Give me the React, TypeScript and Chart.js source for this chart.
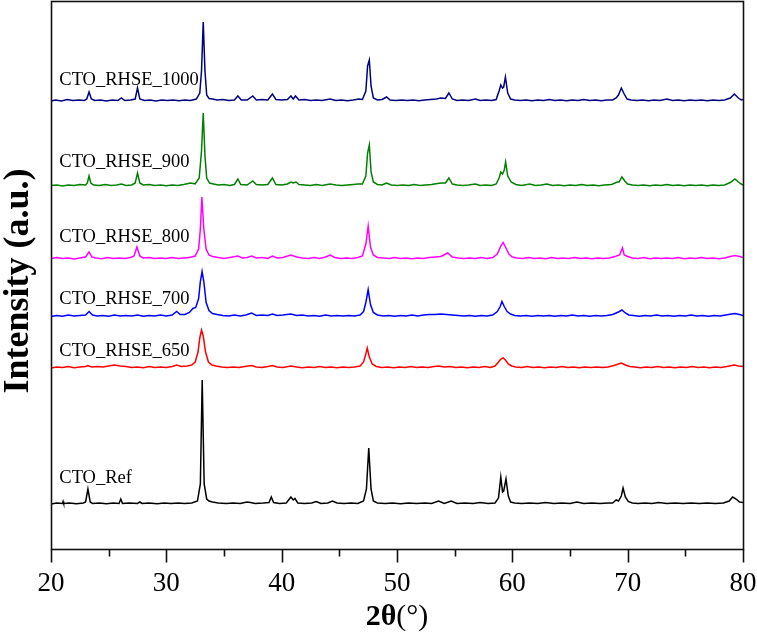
import React, { useEffect, useRef } from "react";
import { Chart, registerables } from "chart.js";

Chart.register(...registerables);

// 2θ (degrees), intensity above each trace's own baseline (a.u.)
const ref: number[][] = [
  [20,0],[20.5,1],[21,0.5],[21.05,2.5],[21.1,0.5],[21.6,1],[22.2,0.3],[22.8,1],[23.0,2],[23.2,15],[23.4,2],[23.6,0.5],[24.2,1],[24.8,0.3],[25.4,1],[25.9,0.5],[26.05,5],[26.2,0.5],[26.8,1],[27.5,0.5],[27.7,2],[27.9,0.5],[28.5,1],[29.2,0.3],[29.8,1],[30.4,0.5],[31,1],[31.6,0.5],[32.2,1],[32.7,3],[32.95,20],[33.11,124],[33.28,20],[33.5,5],[33.7,3],[34,2],[34.5,1],[35.2,0.5],[35.8,1],[36.4,0.5],[37.0,2],[37.3,1.5],[37.7,0.5],[38.4,1],[38.9,1.5],[39.1,7],[39.3,1.5],[39.8,0.5],[40.4,1],[40.8,7],[41.0,4],[41.15,5.5],[41.4,1],[42,0.5],[42.6,1],[43.0,2.5],[43.4,0.5],[44.0,1],[44.4,3],[44.8,1],[45.4,0.5],[46,1],[46.6,0.5],[47.1,3],[47.35,15],[47.55,56],[47.75,15],[47.95,3],[48.3,1],[49,0.5],[49.6,1],[50.3,0.3],[51,1],[51.7,0.5],[52.4,1],[53,0.5],[53.6,3],[54.1,0.5],[54.7,3],[55.2,0.5],[55.9,1],[56.6,0.5],[57.2,1.5],[57.9,0.5],[58.5,1],[58.8,6],[59.0,27],[59.15,12],[59.25,13],[59.45,25],[59.65,8],[59.85,2],[60.2,1],[60.8,0.5],[61.5,1],[62.2,0.5],[62.9,1.5],[63.6,0.5],[64.3,1],[65.0,0.5],[65.6,2],[66.2,0.5],[66.9,1],[67.6,0.5],[68.3,1],[68.7,1],[69.0,4],[69.2,3],[69.45,8],[69.6,16],[69.8,7],[70.05,2.5],[70.4,1],[70.9,0.5],[71.5,1],[72.1,0.5],[72.7,1.5],[73.4,0.5],[74.1,1],[74.8,0.5],[75.5,1],[76.2,0.5],[76.9,1],[77.6,0.5],[78.3,1],[78.8,3],[79.1,7],[79.4,5],[79.7,2],[80,1.5]
];
const rhse650: number[][] = [
  [20,0],[20.5,1],[21,0.5],[21.5,1.5],[22,0.3],[22.5,1],[23.0,1.5],[23.2,2.5],[23.5,1],[24.0,1.5],[24.5,1],[25.0,2],[25.5,3],[26.0,2],[26.5,1.5],[27.0,0.5],[27.5,1],[28,0.3],[28.5,1.5],[29,0.5],[29.5,1],[30,0.5],[30.5,1.5],[30.9,3],[31.3,1.5],[31.8,2],[32.2,3],[32.5,6],[32.75,16],[32.9,30],[33.05,38],[33.2,32],[33.4,16],[33.65,6],[33.95,3],[34.3,2],[34.8,1],[35.3,0.5],[35.8,1],[36.3,0.5],[36.8,1.5],[37.4,2.5],[37.8,1],[38.3,0.5],[38.8,1.5],[39.2,2.5],[39.6,1],[40.1,0.5],[40.8,2],[41.3,1],[41.8,0.3],[42.3,1],[42.8,0.5],[43.3,1.5],[43.8,0.5],[44.3,1],[44.8,0.3],[45.3,1],[45.8,0.5],[46.3,1],[46.8,2],[47.1,6],[47.3,14],[47.42,20],[47.6,11],[47.85,4],[48.2,1.5],[48.7,0.5],[49.2,1],[49.7,0.3],[50.2,1],[50.7,0.5],[51.2,1.5],[51.7,0.5],[52.2,1],[52.7,0.5],[53.2,1.5],[53.6,2],[54.1,1],[54.6,1.5],[55.1,0.5],[55.6,1],[56.1,0.3],[56.6,1],[57.1,0.5],[57.6,1.5],[58.1,0.5],[58.5,2],[58.8,6],[59.0,9],[59.2,10],[59.4,8],[59.65,4],[59.95,2],[60.3,1],[60.8,0.5],[61.3,1.5],[61.8,0.5],[62.3,1],[62.8,0.3],[63.3,1],[63.8,0.5],[64.3,1.5],[64.8,0.5],[65.3,1],[65.8,0.3],[66.3,1],[66.8,0.5],[67.3,1],[67.8,0.5],[68.3,1],[68.8,2.5],[69.2,4],[69.45,5],[69.8,3],[70.2,1.5],[70.6,1],[71.1,0.3],[71.6,1],[72.1,0.5],[72.6,1.5],[73.1,0.5],[73.6,1],[74.1,0.3],[74.6,1],[75.1,0.5],[75.6,1.5],[76.1,0.5],[76.6,1],[77.1,0.3],[77.6,1],[78.1,0.5],[78.6,1.5],[79.0,2.5],[79.25,3],[79.6,2],[80,1.5]
];
const rhse700: number[][] = [
  [20,0],[20.5,1],[21,0.3],[21.5,1.5],[22,0.5],[22.5,1],[23.0,1.5],[23.3,5],[23.6,1.5],[24.0,0.5],[24.5,1],[25,0.3],[25.5,1.5],[26,0.5],[26.5,1],[27,0.5],[27.5,1.5],[28,0.3],[28.5,1],[29,0.5],[29.5,1.5],[30,0.5],[30.5,1.5],[30.9,5],[31.2,2],[31.6,2],[32.0,4],[32.3,8],[32.55,9],[32.8,18],[32.95,35],[33.1,45],[33.25,35],[33.45,14],[33.7,6],[34.0,3],[34.4,2],[34.9,1],[35.4,0.5],[35.9,1.5],[36.4,0.5],[36.9,1.5],[37.4,3.5],[37.8,1],[38.3,1.5],[38.8,1],[39.2,2.5],[39.6,1],[40.1,1.5],[40.8,2.5],[41.3,1],[41.8,1.5],[42.3,0.5],[42.8,1],[43.3,0.3],[43.8,1.5],[44.3,0.5],[44.8,1],[45.3,0.5],[45.8,1],[46.3,0.5],[46.8,1.5],[47.1,5],[47.3,14],[47.5,27],[47.7,12],[47.95,4],[48.3,1.5],[48.8,0.5],[49.3,1],[49.8,0.3],[50.3,1],[50.8,0.5],[51.3,1.5],[51.8,0.5],[52.3,1.5],[52.8,2],[53.3,2],[53.8,2.5],[54.3,2],[54.8,1.5],[55.3,1],[55.8,0.5],[56.3,1],[56.8,0.3],[57.3,1],[57.8,0.5],[58.3,1.5],[58.7,5],[58.95,10],[59.1,15],[59.3,10],[59.55,5],[59.85,2.5],[60.2,1],[60.7,0.5],[61.2,1],[61.7,0.3],[62.2,1],[62.7,0.5],[63.2,1],[63.7,0.3],[64.2,1],[64.7,0.5],[65.2,1.5],[65.7,0.5],[66.2,1],[66.7,0.3],[67.2,1],[67.7,0.5],[68.2,1],[68.7,2],[69.2,4.5],[69.5,6.5],[69.8,3.5],[70.1,1.5],[70.5,1],[71,0.3],[71.5,1],[72,0.5],[72.5,1.5],[73,0.5],[73.5,1],[74,0.3],[74.5,1],[75,0.5],[75.5,1.5],[76,0.5],[76.5,1],[77,0.3],[77.5,1],[78,0.5],[78.5,1.5],[79.0,2.5],[79.3,3],[79.7,2],[80,1]
];
const rhse800: number[][] = [
  [20,0.5],[20.5,1.5],[21,0.5],[21.5,1],[22,0],[22.5,1],[23.0,2],[23.3,7],[23.55,2],[23.9,1],[24.4,0.3],[24.9,1.5],[25.4,0.5],[25.9,1],[26.4,0.5],[26.9,1.5],[27.2,3],[27.45,12],[27.7,3],[28.0,1],[28.5,1.5],[29,0.5],[29.5,1],[30,0.5],[30.5,1.5],[31,0.5],[31.5,1],[32.0,1.5],[32.5,3],[32.8,10],[32.95,30],[33.08,62],[33.25,30],[33.45,10],[33.7,4],[34.0,2.5],[34.5,1.5],[35,0.5],[35.5,1.5],[36.2,3],[36.6,1],[37.0,1.5],[37.4,3],[37.8,1],[38.3,1.5],[38.8,0.5],[39.2,3],[39.6,1],[40.1,1.5],[40.8,4],[41.3,2],[41.8,1],[42.3,0.5],[42.8,1.5],[43.3,0.5],[43.8,2],[44.2,4],[44.6,1.5],[45.1,0.5],[45.6,1],[46.1,0.5],[46.6,1.5],[47.0,3],[47.3,15],[47.5,33],[47.7,12],[47.95,4],[48.3,1.5],[48.8,1],[49.3,0.5],[49.8,1.5],[50.3,0.5],[50.8,1],[51.3,0.3],[51.8,1],[52.3,0.5],[52.8,1.5],[53.3,2],[53.8,2.5],[54.4,6],[54.8,2],[55.3,1],[55.8,0.5],[56.3,1],[56.8,0.5],[57.3,1.5],[57.8,0.5],[58.3,1.5],[58.7,5],[59.0,13],[59.2,16.5],[59.45,11],[59.7,5],[60.0,2],[60.4,1],[60.9,0.5],[61.4,1.5],[61.9,0.5],[62.4,1],[62.9,0.3],[63.4,1.5],[63.9,0.5],[64.4,1],[64.9,0.5],[65.4,1.5],[65.9,0.5],[66.4,1],[66.9,0.3],[67.4,1],[67.9,0.5],[68.4,1],[68.9,2.5],[69.3,4],[69.55,11],[69.7,4],[70.0,2.5],[70.4,1],[70.9,0.5],[71.4,1.5],[71.9,0.3],[72.4,1],[72.9,0.5],[73.4,1],[73.9,0.5],[74.4,1.5],[74.9,0.3],[75.4,1],[75.9,0.5],[76.4,1.5],[76.9,0.5],[77.4,1],[77.9,0.3],[78.4,1],[78.9,2.5],[79.3,3.5],[79.7,2.5],[80,1.5]
];
const rhse900: number[][] = [
  [20,0.5],[20.5,1],[21,0],[21.5,1],[22,0.5],[22.5,1.5],[23.0,1],[23.15,3],[23.3,10],[23.45,3],[23.7,1],[24.2,0.5],[24.7,1.5],[25.2,0.5],[25.7,1],[26.1,2],[26.5,0.5],[27.0,1],[27.3,3],[27.5,13],[27.7,3],[28.0,1],[28.5,1.5],[29,0.5],[29.5,1],[30,0.3],[30.5,1],[31,0.5],[31.5,1.5],[32.1,3],[32.5,2],[32.85,8],[33.05,35],[33.2,73],[33.35,30],[33.5,8],[33.75,3],[34.1,2],[34.5,1],[35,1.5],[35.5,0.5],[35.9,1.5],[36.2,7],[36.45,1.5],[37.0,1],[37.5,5],[37.8,1.5],[38.3,1],[38.8,1.5],[39.2,8],[39.5,1.5],[40,1],[40.5,2],[40.8,4],[41.0,3],[41.25,4],[41.5,1.5],[42,1],[42.5,0.5],[43,1.5],[43.5,0.5],[44.2,2],[44.7,1],[45.2,0.5],[45.7,1],[46.2,1.5],[46.6,2],[47.0,2],[47.3,10],[47.45,33],[47.6,41],[47.75,14],[47.95,4],[48.3,1.5],[48.7,1],[49.1,3],[49.5,1],[50,0.5],[50.5,1],[51,0.5],[51.5,1.5],[52,0.5],[52.5,1],[53,1.5],[53.5,2.5],[53.9,3],[54.2,3],[54.5,8],[54.8,2],[55.2,1],[55.7,0.5],[56.2,1],[56.8,2],[57.2,0.5],[57.7,1],[58.2,0.5],[58.6,2],[58.85,8],[59.0,14],[59.15,12],[59.3,16],[59.42,24],[59.6,10],[59.9,4],[60.3,1.5],[60.8,0.5],[61.5,2],[62,0.5],[62.5,1],[63,2],[63.5,0.5],[64,1],[64.5,0.3],[65,1],[65.5,0.5],[66,1.5],[66.5,0.5],[67,1],[67.5,0.3],[68,1],[68.6,1.5],[69.1,4],[69.25,4],[69.5,9],[69.75,5],[70.0,2],[70.4,1],[70.9,0.5],[71.4,1],[71.9,0.3],[72.4,1],[72.9,0.5],[73.4,1.5],[73.9,0.5],[74.4,1],[74.9,0.3],[75.4,1],[75.9,0.5],[76.4,1],[76.9,0.3],[77.4,1],[77.9,0.5],[78.4,1],[78.9,3.5],[79.3,7],[79.6,4],[79.85,2],[80,1]
];
const rhse1000: number[][] = [
  [20,0],[20.4,1],[20.9,0],[21.4,1.5],[21.9,0.5],[22.4,1],[22.9,0.5],[23.1,2],[23.3,9],[23.5,2],[23.8,0.5],[24.3,1],[24.8,0],[25.3,1],[25.8,0.5],[26.1,3],[26.4,0.5],[26.9,1],[27.3,2],[27.5,13],[27.7,2],[28.1,0.5],[28.6,1],[29.1,0],[29.6,1],[30.1,0.5],[30.6,1],[31.1,0.3],[31.6,1],[32.1,0.5],[32.6,2],[32.9,8],[33.05,30],[33.2,79],[33.35,30],[33.5,6],[33.7,2.5],[34.0,2],[34.4,1],[34.9,1.5],[35.4,0.5],[35.9,1],[36.2,5],[36.5,1],[37.0,1],[37.5,5],[37.8,1],[38.3,1.5],[38.8,1],[39.2,7],[39.5,1.5],[40.0,1],[40.5,1.5],[40.8,5],[41.0,2],[41.2,5],[41.5,1],[42.0,1.5],[42.5,0.5],[43.0,1],[43.5,0.5],[44.2,2],[44.7,0.5],[45.2,1],[45.7,0.3],[46.2,1],[46.7,2],[47.0,1.5],[47.3,10],[47.45,35],[47.6,41],[47.75,15],[47.95,3],[48.3,1],[48.7,1.5],[49.1,4],[49.4,1],[49.9,0.5],[50.4,1],[50.9,0.5],[51.4,1],[51.9,0.3],[52.4,1],[52.9,1.5],[53.4,2],[53.8,3],[54.2,2.5],[54.5,8],[54.8,2],[55.2,0.5],[55.7,1],[56.2,0.5],[56.8,2],[57.2,0.5],[57.7,1],[58.2,0.5],[58.6,1.5],[58.85,10],[59.0,16],[59.15,13],[59.25,14],[59.4,24],[59.6,8],[59.85,2],[60.2,1],[60.7,0.5],[61.2,1],[61.7,0.3],[62.2,1],[62.7,0.5],[63.2,1.5],[63.7,0.5],[64.2,1],[64.7,0.3],[65.2,1],[65.7,0.5],[66.2,1.5],[66.7,0.5],[67.2,1],[67.7,0.3],[68.2,1],[68.7,1],[69.0,3],[69.2,6],[69.45,13],[69.7,7],[69.95,2],[70.3,1],[70.8,0.5],[71.3,1],[71.8,0.3],[72.3,1],[72.8,0.5],[73.4,2],[73.9,0.5],[74.4,1],[74.9,0.3],[75.4,1],[75.9,0.5],[76.4,1],[76.9,0.3],[77.4,1],[77.9,0.5],[78.4,1],[78.9,3],[79.25,7],[79.6,3],[79.85,1],[80,1.5]
];

const seriesNames = ["CTO_Ref", "CTO_RHSE_650", "CTO_RHSE_700", "CTO_RHSE_800", "CTO_RHSE_900", "CTO_RHSE_1000"];
const seriesData = [ref, rhse650, rhse700, rhse800, rhse900, rhse1000];
const seriesOffsets = [45, 181, 232.5, 290, 363, 448];
const labelLift = [21, 12, 12.5, 17, 19, 16];
const seriesColors = ["#000000", "#ff0000", "#0000ff", "#ff00ff", "#008000", "#000080"];
const xTicks = [20, 30, 40, 50, 60, 70, 80];

const SERIF = '"Liberation Serif", "Times New Roman", Times, serif';

const decorPlugin = {
  id: "decor",
  afterDraw(chart: any) {
    const { ctx, chartArea } = chart;
    const xs = chart.scales.x;
    const ys = chart.scales.y;
    const { left, right, top, bottom } = chartArea;
    ctx.save();
    ctx.strokeStyle = "#111";
    ctx.lineWidth = 1.6;
    ctx.strokeRect(left + 0.5, top + 0.5, right - left, bottom - top);
    // ticks (major every 10, minor every 5)
    ctx.beginPath();
    for (let v = 20; v <= 80; v += 5) {
      const px = Math.round(xs.getPixelForValue(v)) + 0.5;
      const len = v % 10 === 0 ? 13 : 7;
      ctx.moveTo(px, bottom + 0.5);
      ctx.lineTo(px, bottom + 0.5 + len);
    }
    ctx.stroke();
    // series labels
    ctx.fillStyle = "#000";
    ctx.font = `18.5px ${SERIF}`;
    ctx.textAlign = "left";
    ctx.textBaseline = "alphabetic";
    seriesNames.forEach((name, i) => {
      const x = xs.getPixelForValue(20.72);
      const y = ys.getPixelForValue(seriesOffsets[i] + labelLift[i]);
      ctx.fillText(name, x, y);
    });
    // y title
    ctx.save();
    ctx.translate(28, 281);
    ctx.rotate(-Math.PI / 2);
    ctx.font = `bold 36px ${SERIF}`;
    ctx.textAlign = "center";
    ctx.fillText("Intensity (a.u.)", 0, 0);
    ctx.restore();
    // x title: bold "2θ" + regular "(°)"
    const partA = "2θ";
    const partB = "(°)";
    ctx.font = `bold 30px ${SERIF}`;
    const wa = ctx.measureText(partA).width;
    ctx.font = `30px ${SERIF}`;
    const wb = ctx.measureText(partB).width;
    const cx = (left + right) / 2;
    const sx = cx - (wa + wb) / 2;
    ctx.textAlign = "left";
    ctx.font = `bold 30px ${SERIF}`;
    ctx.fillText(partA, sx, 625);
    ctx.font = `30px ${SERIF}`;
    ctx.fillText(partB, sx + wa, 625);
    ctx.restore();
  },
};

export default function App() {
  const canvasRef = useRef<HTMLCanvasElement | null>(null);
  useEffect(() => {
    document.body.style.margin = "0";
    const canvas = canvasRef.current;
    if (!canvas) return;
    const datasets = seriesData.map((pts, i) => ({
      label: seriesNames[i],
      data: pts.map(([x, h]) => ({ x, y: seriesOffsets[i] + h })),
      borderColor: seriesColors[i],
      backgroundColor: seriesColors[i],
      borderWidth: 1.5,
      pointRadius: 0,
      tension: 0,
      fill: false,
    }));
    const chart = new Chart(canvas, {
      type: "line",
      data: { datasets },
      options: {
        animation: false,
        responsive: false,
        maintainAspectRatio: false,
        devicePixelRatio: 1,
        layout: { padding: { left: 51, right: 14, top: 1, bottom: 0 } },
        plugins: { legend: { display: false }, tooltip: { enabled: false } },
        scales: {
          x: {
            type: "linear",
            min: 20,
            max: 80,
            afterBuildTicks: (s: any) => {
              s.ticks = xTicks.map((v) => ({ value: v }));
            },
            afterFit: (s: any) => {
              s.height = 85;
              s.paddingLeft = 0;
              s.paddingRight = 0;
            },
            ticks: {
              color: "#000",
              font: { family: SERIF, size: 27 },
              padding: 19,
              maxRotation: 0,
              autoSkip: false,
            },
            grid: { display: false, drawTicks: false },
            border: { display: false },
          },
          y: { type: "linear", min: 0, max: 548, display: false },
        },
      },
      plugins: [decorPlugin],
    });
    return () => chart.destroy();
  }, []);
  return <canvas ref={canvasRef} width={757} height={634} style={{ display: "block", width: 757, height: 634 }} />;
}
